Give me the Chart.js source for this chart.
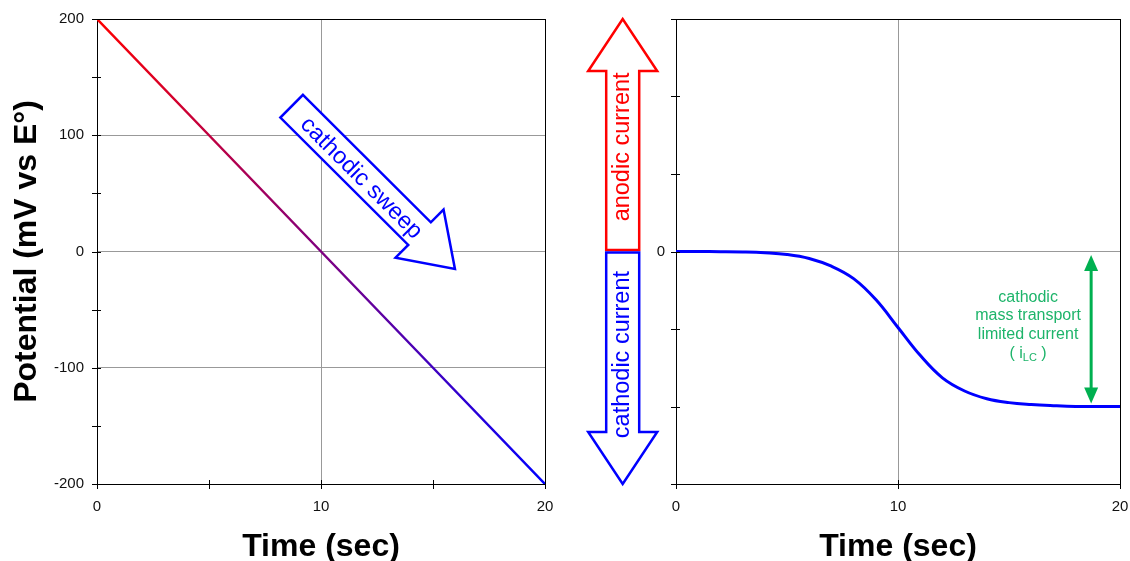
<!DOCTYPE html>
<html>
<head>
<meta charset="utf-8">
<script src="https://cdn.jsdelivr.net/npm/chart.js@4"></script>
<style>
  body { margin: 0; background: #fff; }
  #wrap { position: relative; width: 1130px; height: 561px; }
  canvas { position: absolute; top: 0; }
</style>
</head>
<body>
<div id="wrap">
  <canvas id="sweep" width="565" height="561" style="left:0"></canvas>
  <canvas id="current" width="565" height="561" style="left:565px"></canvas>
</div>
<script>
// potential sweep (left)
const sweepTime = [0, 5, 10, 15, 20];
const sweepPotential = [200, 100, 0, -100, -200];
// current response (right)
const currentTime = [0, 1, 2, 3, 4, 5, 6, 7, 8, 9, 10, 11, 12, 13, 14, 15, 16, 17, 18, 19, 20];
const currentValue = [0, 0, -0.002, -0.006, -0.016, -0.038, -0.09, -0.19, -0.35, -0.62, -0.98,
  -1.34, -1.63, -1.8, -1.9, -1.95, -1.975, -1.99, -2, -2, -2];

const FONT = "'Liberation Sans', Arial, sans-serif";
Chart.defaults.font.family = FONT;
Chart.defaults.color = '#111';

function blockArrow(ctx, x0, y0, x1, y1, shaftW, headW, headL, color, lw) {
  const ang = Math.atan2(y1 - y0, x1 - x0);
  const len = Math.hypot(x1 - x0, y1 - y0);
  ctx.save();
  ctx.translate(x0, y0);
  ctx.rotate(ang);
  ctx.beginPath();
  ctx.moveTo(0, -shaftW / 2);
  ctx.lineTo(len - headL, -shaftW / 2);
  ctx.lineTo(len - headL, -headW / 2);
  ctx.lineTo(len, 0);
  ctx.lineTo(len - headL, headW / 2);
  ctx.lineTo(len - headL, shaftW / 2);
  ctx.lineTo(0, shaftW / 2);
  ctx.closePath();
  ctx.fillStyle = '#fff';
  ctx.fill();
  ctx.strokeStyle = color;
  ctx.lineWidth = lw;
  ctx.stroke();
  ctx.restore();
}

// no automatic label padding, layout padding decides the plot area
function noPad(s) {
  s.paddingLeft = 0;
  s.paddingRight = 0;
  s.paddingTop = 0;
  s.paddingBottom = 0;
}

// tick marks that cross the axis line
const crossTicks = {
  id: 'crossTicks',
  afterDraw(chart) {
    const ctx = chart.ctx;
    ctx.save();
    ctx.strokeStyle = '#000';
    ctx.lineWidth = 1;
    ['x', 'y'].forEach(function(id) {
      const s = chart.scales[id];
      s.ticks.forEach(function(t) {
        const p = Math.round(s.getPixelForValue(t.value)) + 0.5;
        ctx.beginPath();
        if (id === 'x') {
          ctx.moveTo(p, s.top - 4);
          ctx.lineTo(p, s.top + 5);
        } else {
          ctx.moveTo(s.right - 5, p);
          ctx.lineTo(s.right + 4, p);
        }
        ctx.stroke();
      });
    });
    ctx.restore();
  }
};

const sweepArrow = {
  id: 'sweepArrow',
  afterDatasetsDraw(chart) {
    const ctx = chart.ctx;
    const xs = chart.scales.x, ys = chart.scales.y;
    const x0 = xs.getPixelForValue(8.69), y0 = ys.getPixelForValue(125);
    const x1 = xs.getPixelForValue(15.98), y1 = ys.getPixelForValue(-15);
    blockArrow(ctx, x0, y0, x1, y1, 32, 68, 50, '#0000ff', 2.5);
    ctx.save();
    ctx.translate(x0, y0);
    ctx.rotate(Math.atan2(y1 - y0, x1 - x0));
    ctx.fillStyle = '#0000ff';
    ctx.font = '23.5px ' + FONT;
    ctx.textAlign = 'center';
    ctx.textBaseline = 'middle';
    ctx.fillText('cathodic sweep', 100, 2);
    ctx.restore();
  }
};

const currentNotes = {
  id: 'currentNotes',
  afterDatasetsDraw(chart) {
    const ctx = chart.ctx;
    const xs = chart.scales.x, ys = chart.scales.y;
    const zero = ys.getPixelForValue(0);
    const ax = 57.7;
    // anodic / cathodic arrows
    blockArrow(ctx, ax, zero - 1.5, ax, ys.getPixelForValue(3), 33, 69, 52, '#ff0000', 2.5);
    blockArrow(ctx, ax, zero + 1, ax, ys.getPixelForValue(-3), 33, 69, 52, '#0000ff', 2.5);
    ctx.save();
    ctx.font = '23.5px ' + FONT;
    ctx.textAlign = 'center';
    ctx.textBaseline = 'middle';
    ctx.translate(ax, ys.getPixelForValue(1.35));
    ctx.rotate(-Math.PI / 2);
    ctx.fillStyle = '#ff0000';
    ctx.fillText('anodic current', 0, 0);
    ctx.restore();
    ctx.save();
    ctx.font = '23.5px ' + FONT;
    ctx.textAlign = 'center';
    ctx.textBaseline = 'middle';
    ctx.translate(ax, ys.getPixelForValue(-1.33));
    ctx.rotate(-Math.PI / 2);
    ctx.fillStyle = '#0000ff';
    ctx.fillText('cathodic current', 0, 0);
    ctx.restore();

    // limiting current double arrow
    const gx = xs.getPixelForValue(18.7);
    const top = zero + 3.5, bot = ys.getPixelForValue(-2) - 3;
    ctx.save();
    ctx.strokeStyle = '#00b050';
    ctx.fillStyle = '#00b050';
    ctx.lineWidth = 3;
    ctx.beginPath();
    ctx.moveTo(gx, top + 12);
    ctx.lineTo(gx, bot - 12);
    ctx.stroke();
    ctx.beginPath();
    ctx.moveTo(gx, top);
    ctx.lineTo(gx - 7, top + 16);
    ctx.lineTo(gx + 7, top + 16);
    ctx.closePath();
    ctx.fill();
    ctx.beginPath();
    ctx.moveTo(gx, bot);
    ctx.lineTo(gx - 7, bot - 16);
    ctx.lineTo(gx + 7, bot - 16);
    ctx.closePath();
    ctx.fill();

    const tx = xs.getPixelForValue(15.86);
    ctx.fillStyle = '#1db46a';
    ctx.font = '16px ' + FONT;
    ctx.textAlign = 'center';
    ctx.textBaseline = 'middle';
    ctx.fillText('cathodic', tx, ys.getPixelForValue(-0.6));
    ctx.fillText('mass transport', tx, ys.getPixelForValue(-0.83));
    ctx.fillText('limited current', tx, ys.getPixelForValue(-1.07));
    const ly = ys.getPixelForValue(-1.32);
    const wa = ctx.measureText('( i').width;
    const wc = ctx.measureText(' )').width;
    ctx.font = '11px ' + FONT;
    const wb = ctx.measureText('LC').width;
    let sx = tx - (wa + wb + wc) / 2;
    ctx.textAlign = 'left';
    ctx.font = '16px ' + FONT;
    ctx.fillText('( i', sx, ly);
    ctx.font = '11px ' + FONT;
    ctx.fillText('LC', sx + wa, ly + 4);
    ctx.font = '16px ' + FONT;
    ctx.fillText(' )', sx + wa + wb, ly);
    ctx.restore();
  }
};

const clear = 'rgba(0,0,0,0)';
const axisTitle = { size: 32, weight: 'bold', lineHeight: 1 };

new Chart(document.getElementById('sweep').getContext('2d'), {
  type: 'line',
  data: {
    datasets: [{
      data: sweepTime.map(function(t, i) { return { x: t, y: sweepPotential[i] }; }),
      borderColor: function(c) {
        const area = c.chart.chartArea;
        if (!area) return '#ff0000';
        const g = c.chart.ctx.createLinearGradient(0, area.top, 0, area.bottom);
        g.addColorStop(0, '#ff0000');
        g.addColorStop(1, '#0000ff');
        return g;
      },
      borderWidth: 2.5,
      pointRadius: 0,
      tension: 0
    }]
  },
  options: {
    responsive: false,
    animation: false,
    layout: { padding: { top: 19, right: 20, left: 0, bottom: 0 } },
    plugins: { legend: { display: false }, tooltip: { enabled: false } },
    scales: {
      x: {
        type: 'linear',
        min: 0, max: 20,
        afterFit: function(s) { s.height = 77; noPad(s); },
        ticks: {
          stepSize: 5,
          padding: 14,
          font: { size: 15 },
          callback: function(v) { return v % 10 === 0 ? v : ''; }
        },
        grid: {
          drawTicks: false,
          color: function(c) {
            if (c.tick.value === 20) return '#000';
            return c.tick.value === 10 ? '#999' : clear;
          }
        },
        border: { color: '#000', width: 1 },
        title: { display: true, text: 'Time (sec)', color: '#000', font: axisTitle, padding: { top: 0, bottom: -2 } }
      },
      y: {
        type: 'linear',
        min: -200, max: 200,
        afterFit: function(s) { s.width = 97; noPad(s); },
        ticks: {
          stepSize: 50,
          padding: 13,
          font: { size: 15 },
          callback: function(v) { return v % 100 === 0 ? v : ''; }
        },
        grid: {
          drawTicks: false,
          color: function(c) {
            if (c.tick.value === 200) return '#000';
            return c.tick.value % 100 === 0 ? '#999' : clear;
          }
        },
        border: { color: '#000', width: 1 },
        title: {
          display: true, text: 'Potential (mV vs E°)', color: '#000',
          font: { size: 32, weight: 'bold', lineHeight: 1.2 }, padding: { top: 8, bottom: 0 }
        }
      }
    }
  },
  plugins: [crossTicks, sweepArrow]
});

new Chart(document.getElementById('current').getContext('2d'), {
  type: 'line',
  data: {
    datasets: [{
      data: currentTime.map(function(t, i) { return { x: t, y: currentValue[i] }; }),
      borderColor: '#0000ff',
      borderWidth: 3,
      pointRadius: 0,
      tension: 0.4
    }]
  },
  options: {
    responsive: false,
    animation: false,
    layout: { padding: { top: 19, right: 10, left: 0, bottom: 0 } },
    plugins: { legend: { display: false }, tooltip: { enabled: false } },
    scales: {
      x: {
        type: 'linear',
        min: 0, max: 20,
        afterFit: function(s) { s.height = 77; noPad(s); },
        ticks: { stepSize: 10, padding: 14, font: { size: 15 } },
        grid: {
          drawTicks: false,
          color: function(c) {
            if (c.tick.value === 20) return '#000';
            return c.tick.value === 10 ? '#999' : clear;
          }
        },
        border: { color: '#000', width: 1 },
        title: { display: true, text: 'Time (sec)', color: '#000', font: axisTitle, padding: { top: 0, bottom: -2 } }
      },
      y: {
        type: 'linear',
        min: -3, max: 3,
        afterFit: function(s) { s.width = 111; noPad(s); },
        ticks: {
          stepSize: 1,
          padding: 11,
          font: { size: 15 },
          callback: function(v) { return v === 0 ? '0' : ''; }
        },
        grid: {
          drawTicks: false,
          color: function(c) {
            if (c.tick.value === 3) return '#000';
            return c.tick.value === 0 ? '#999' : clear;
          }
        },
        border: { color: '#000', width: 1 }
      }
    }
  },
  plugins: [crossTicks, currentNotes]
});
</script>
</body>
</html>
